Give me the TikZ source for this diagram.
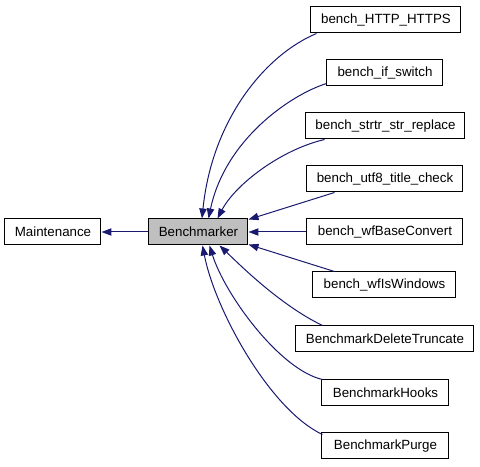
\documentclass[tikz,border=0pt]{standalone}
\usepackage{fontspec}
\setmainfont{Liberation Sans}
\usetikzlibrary{arrows.meta,calc}
\definecolor{edgeblue}{HTML}{191970}
\definecolor{basegray}{HTML}{BFBFBF}
\begin{document}
\begin{tikzpicture}[x=0.75pt,y=-0.75pt,
  box/.style={draw=black,line width=0.75pt,minimum height=19.5pt,inner sep=0pt,font=\fontsize{10}{12}\selectfont},
  arr/.style={draw=edgeblue,line width=0.75pt,-{Triangle[length=7.5pt,width=5.5pt]}}]
\useasboundingbox (0,0) rectangle (480,467);
\node[box,minimum width=72pt] (maint) at (53,232) {Maintenance};
\node[box,fill=basegray,minimum width=74.25pt] (bm) at (198.5,232) {Benchmarker};
\node[box,minimum width=112.5pt] (http) at (386,20) {bench\_HTTP\_HTTPS};
\node[box,minimum width=87pt] (ifsw) at (385,73) {bench\_if\_switch};
\node[box,minimum width=119.25pt] (strtr) at (385.5,126) {bench\_strtr\_str\_replace};
\node[box,minimum width=117pt] (utf8) at (385,179) {bench\_utf8\_title\_check};
\node[box,minimum width=117pt] (wfb) at (385,232) {bench\_wfBaseConvert};
\node[box,minimum width=107.25pt] (wfis) at (384.5,285) {bench\_wfIsWindows};
\node[box,minimum width=133.5pt] (del) at (385,339) {BenchmarkDeleteTruncate};
\node[box,minimum width=95.25pt] (hooks) at (385.5,393) {BenchmarkHooks};
\node[box,minimum width=95.25pt] (purge) at (385.5,446) {BenchmarkPurge};
\draw[arr] (bm.west) -- (maint.east);
\draw[arr] ($(http.south west)+(6,0)$) .. controls (265,55) and (212,120) .. ($(bm.north)+(3.5,0)$);
\draw[arr] ($(ifsw.south west)+(0,-3)$) .. controls (290,95) and (225,140) .. ($(bm.north)+(10,0)$);
\draw[arr] ($(strtr.south west)+(19,0)$) .. controls (280,150) and (235,185) .. ($(bm.north)+(19,0)$);
\draw[arr] ($(utf8.south west)+(28,0)$) -- ($(bm.north east)+(0,1)$);
\draw[arr] (wfb.west) -- (bm.east);
\draw[arr] ($(wfis.north west)+(22,0)$) -- ($(bm.south east)+(0,-1)$);
\draw[arr] ($(del.north west)+(27,0)$) .. controls (280,305) and (240,265) .. ($(bm.south)+(21,0)$);
\draw[arr] ($(hooks.north west)+(1,0)$) .. controls (280,370) and (225,295) .. ($(bm.south)+(11,0)$);
\draw[arr] ($(purge.north west)+(1,2)$) .. controls (270,410) and (215,310) .. ($(bm.south)+(4,0)$);
\end{tikzpicture}
\end{document}
